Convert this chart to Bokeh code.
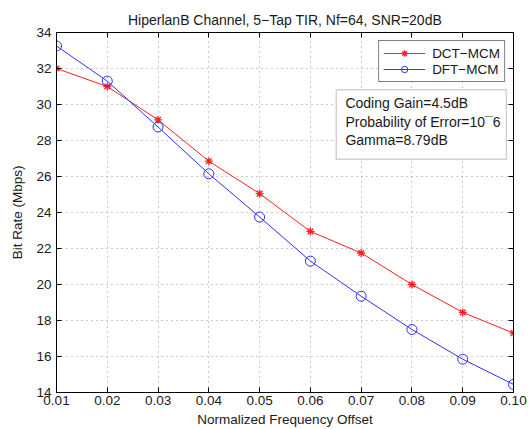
from bokeh.plotting import figure
from bokeh.models import (FixedTicker, Legend, LegendItem, BoxAnnotation, Label,
                          LinearAxis, Range1d, Title)
from bokeh.embed import file_html
from bokeh.resources import INLINE

offsets = [0.01, 0.02, 0.03, 0.04, 0.05, 0.06, 0.07, 0.08, 0.09, 0.10]
dct_mcm = [32.0, 31.0, 29.15, 26.85, 25.05, 22.95, 21.75, 20.0, 18.45, 17.3]
dft_mcm = [33.25, 31.3, 28.75, 26.15, 23.75, 21.3, 19.35, 17.5, 15.85, 14.45]
x_ticks = [0.01, 0.02, 0.03, 0.04, 0.05, 0.06, 0.07, 0.08, 0.09, 0.10]
x_tick_labels = ["0.01", "0.02", "0.03", "0.04", "0.05", "0.06", "0.07", "0.08", "0.09", "0.10"]
y_ticks = [14, 16, 18, 20, 22, 24, 26, 28, 30, 32, 34]
info_lines = ["Coding Gain=4.5dB", "Probability of Error=10\u00af6", "Gamma=8.79dB"]

FONT = "Liberation Sans"
FS = "13.5px"
TXT = "#1a1a1a"

p = figure(width=531, height=429, output_backend="svg", toolbar_location=None,
           x_range=Range1d(0.01, 0.10), y_range=Range1d(14, 34),
           min_border_left=56, min_border_right=18, min_border_top=32, min_border_bottom=37)

p.title = Title(text="HiperlanB Channel, 5\u2212Tap TIR, Nf=64, SNR=20dB", align="center",
                text_font=FONT, text_font_size="14px", text_font_style="normal",
                text_color=TXT, standoff=9)

p.outline_line_color = "black"
p.outline_line_width = 1
p.background_fill_color = "white"

for ax in (p.xaxis[0], p.yaxis[0]):
    ax.major_tick_in = 5
    ax.major_tick_out = 0
    ax.minor_tick_line_color = None
    ax.axis_line_color = "black"
    ax.major_label_text_font = FONT
    ax.major_label_text_font_size = FS
    ax.major_label_text_color = TXT
    ax.axis_label_text_font = FONT
    ax.axis_label_text_font_size = FS
    ax.axis_label_text_font_style = "normal"
    ax.axis_label_text_color = TXT

p.xaxis.ticker = FixedTicker(ticks=x_ticks)
p.xaxis.major_label_overrides = {t: l for t, l in zip(x_ticks, x_tick_labels)}
p.xaxis.axis_label = "Normalized Frequency Offset"
p.xaxis.axis_label_standoff = 4
p.xaxis.major_label_standoff = 3
p.yaxis.ticker = FixedTicker(ticks=y_ticks)
p.yaxis.axis_label = "Bit Rate (Mbps)"
p.yaxis.axis_label_standoff = 8
p.yaxis.major_label_standoff = 5

top = LinearAxis(ticker=FixedTicker(ticks=x_ticks), major_label_text_color=None,
                 major_label_text_font_size="1px", major_label_standoff=0,
                 major_tick_in=5, major_tick_out=0, minor_tick_line_color=None,
                 axis_line_color="black")
right = LinearAxis(ticker=FixedTicker(ticks=y_ticks), major_label_text_color=None,
                   major_label_text_font_size="1px", major_label_standoff=0,
                   major_tick_in=5, major_tick_out=0, minor_tick_line_color=None,
                   axis_line_color="black")
p.add_layout(top, "above")
p.add_layout(right, "right")

p.xgrid.ticker = FixedTicker(ticks=x_ticks)
p.ygrid.ticker = FixedTicker(ticks=y_ticks)
for g in (p.xgrid[0], p.ygrid[0]):
    g.grid_line_color = "#999999"
    g.grid_line_dash = "1 4"
    g.grid_line_width = 1

red = "#ff2020"
blue = "#3030ff"
l1 = p.line(offsets, dct_mcm, line_color=red, line_width=1)
m1 = p.scatter(offsets, dct_mcm, marker="asterisk", size=8, line_color=red, line_width=1.3)
l2 = p.line(offsets, dft_mcm, line_color=blue, line_width=1)
m2 = p.scatter(offsets, dft_mcm, marker="circle", size=10, line_color=blue,
               fill_color=None, line_width=1)

legend = Legend(items=[LegendItem(label="DCT\u2212MCM", renderers=[l1, m1]),
                       LegendItem(label="DFT\u2212MCM", renderers=[l2, m2])],
                location="top_right", border_line_color="black", border_line_width=1,
                label_text_font=FONT, label_text_font_size=FS, label_text_color=TXT,
                glyph_width=42, glyph_height=16, spacing=0, padding=4,
                margin=8, label_standoff=7, label_height=16)
p.add_layout(legend)

box = BoxAnnotation(left=0.0651, right=0.0986, top=30.82, bottom=26.96,
                    fill_color="white", fill_alpha=1.0, line_color="#666666", line_width=1.5)
p.add_layout(box)
for i, txt in enumerate(info_lines):
    p.add_layout(Label(x=0.0669, y=30.07 - i * 1.02, text=txt, text_font=FONT,
                       text_font_size="14px", text_color=TXT, text_baseline="middle"))

open("out.html", "w").write(file_html(p, INLINE))
